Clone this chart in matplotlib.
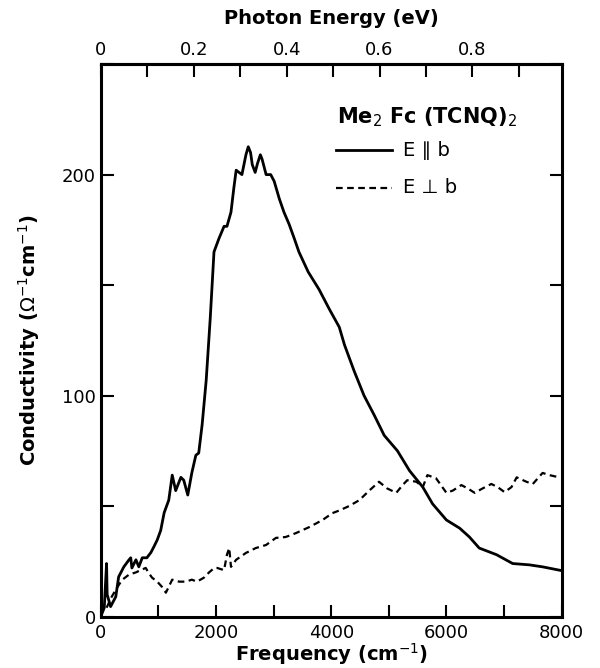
import matplotlib.pyplot as plt
from matplotlib.ticker import MultipleLocator

# E parallel b (solid)
par_x = [0, 60, 100, 110, 170, 260, 310, 400, 490, 520, 540, 610, 660, 720, 800, 870,
         920, 980, 1040, 1100, 1180, 1240, 1300, 1390, 1440, 1510, 1580, 1650, 1700,
         1760, 1830, 1900, 1965, 2050, 2140, 2190, 2260, 2310, 2350, 2400, 2450, 2520,
         2560, 2600, 2630, 2680, 2720, 2770, 2800, 2870, 2950, 3010, 3100, 3180, 3270,
         3360, 3440, 3600, 3790, 3970, 4140, 4230, 4400, 4570, 4750, 4920, 5150, 5360,
         5590, 5760, 6000, 6230, 6400, 6570, 6870, 7150, 7440, 7670, 7960, 8000]
par_y = [0, 4, 24, 10, 4.5, 9, 18, 22.5, 25.7, 26.6, 22, 25.7, 22.5, 26.6, 26.6, 29,
         31.5, 34.7, 39, 47, 52.7, 64, 57, 63, 61.7, 55, 65, 73, 74,
         87, 107, 135, 165, 171, 176.6, 176.6, 183, 194, 202, 201, 200, 209,
         212.6, 210, 204.5, 201, 205, 209, 207, 200, 200, 197, 189, 183, 177.5,
         171, 165, 156, 148, 139, 131, 123, 111, 100, 91, 82, 75, 66,
         58.6, 51, 43.7, 40, 36, 31, 28, 24, 23.4, 22.5, 21, 20.8]

# E perpendicular b (dashed)
perp_x = [100, 190, 280, 370, 490, 610, 690, 780, 830, 890, 980, 1060, 1130, 1180, 1240,
          1360, 1480, 1580, 1670, 1790, 1880, 1970, 2020, 2140, 2190, 2230, 2260, 2350,
          2520, 2690, 2870, 3040, 3210, 3390, 3620, 3850, 4020, 4140, 4310, 4490, 4660,
          4830, 4970, 5130, 5240, 5320, 5480, 5590, 5670, 5820, 6000, 6110, 6260, 6370,
          6490, 6630, 6780, 6890, 7010, 7130, 7220, 7390, 7500, 7670, 7790, 7960]
perp_y = [4, 9, 13, 16.6, 19, 20, 21, 22, 19.8, 17.6, 15.8, 13.5, 10.8, 13.5, 16.7,
          15.8, 15.8, 16.7, 15.8, 17.6, 20, 22, 22, 21, 28, 31, 22.5, 25.7,
          28.8, 31, 32.4, 35.6, 36, 37.8, 40.5, 43.7, 46.8, 48, 50, 52.7, 57,
          61, 58, 56, 59.5, 61.7, 61, 58.6, 64, 62.6, 56, 57, 59.5, 58,
          56, 58, 60, 58.6, 56.3, 58.6, 63, 61, 60, 65, 64, 63]

bottom_ticks = [0, 2000, 4000, 6000, 8000]
top_ticks = [0, 0.2, 0.4, 0.6, 0.8]
y_ticks = [0, 100, 200]

fig = plt.figure(figsize=(6, 6.68), dpi=100)
ax = fig.add_axes([0.168, 0.077, 0.768, 0.827])

ax.plot(par_x, par_y, color="black", lw=2)
ax.plot(perp_x, perp_y, color="black", lw=1.6, ls=(0, (3, 2)))

ax.set_xlim(0, 8000)
ax.set_ylim(0, 250)
ax.set_xticks(bottom_ticks)
ax.set_yticks(y_ticks)
ax.xaxis.set_minor_locator(MultipleLocator(1000))
ax.yaxis.set_minor_locator(MultipleLocator(50))
ax.tick_params(which="both", direction="in", width=1.5, length=9, labelsize=13, right=True)
ax.tick_params(axis="x", pad=5)
for s in ax.spines.values():
    s.set_linewidth(2.2)

top = ax.secondary_xaxis("top", functions=(lambda v: v / 8065.5, lambda e: e * 8065.5))
top.set_xticks(top_ticks)
top.set_xticklabels(["0", "0.2", "0.4", "0.6", "0.8"])
top.xaxis.set_minor_locator(MultipleLocator(0.1))
top.tick_params(which="both", direction="in", width=1.5, length=9, labelsize=13, pad=4)
top.spines["top"].set_linewidth(2.2)
top.set_xlabel("Photon Energy (eV)", fontsize=14, fontweight="bold", labelpad=12)

ax.set_xlabel("Frequency (cm$^{-1}$)", fontsize=14, fontweight="bold", labelpad=0)
ax.set_ylabel("Conductivity ($\\Omega^{-1}$cm$^{-1}$)", fontsize=14, fontweight="bold", labelpad=14)

# legend drawn by hand like the original
ax.text(4100, 226, "Me$_2$ Fc (TCNQ)$_2$", fontsize=15, fontweight="bold", va="center")
ax.plot([4090, 5060], [211, 211], color="black", lw=2)
ax.plot([4090, 5060], [194, 194], color="black", lw=1.6, ls=(0, (3, 2)))
ax.text(5250, 211, "E \u2225 b", fontsize=14, va="center")
ax.text(5250, 194, "E \u22a5 b", fontsize=14, va="center")

fig.savefig("out.png", dpi=100)
